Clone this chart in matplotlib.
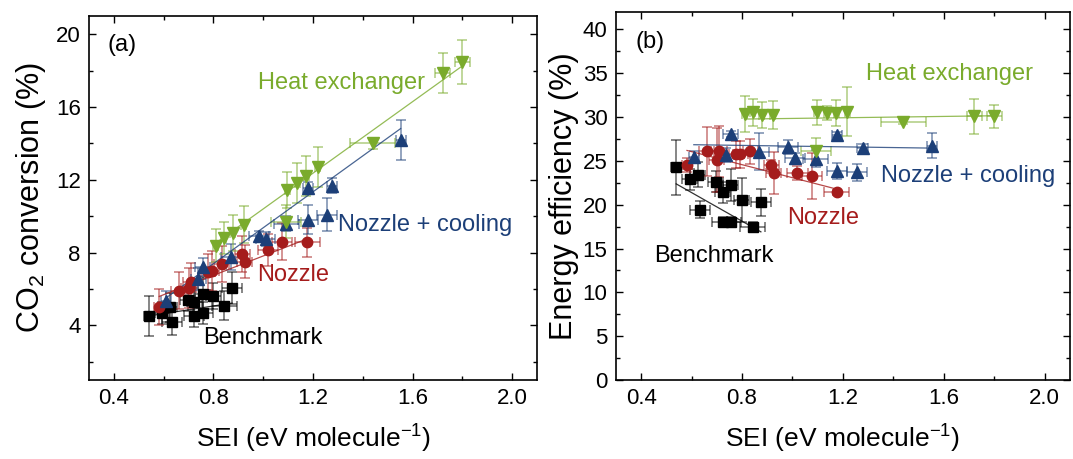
import numpy as np
import matplotlib
matplotlib.use('Agg')
import matplotlib.pyplot as plt
from matplotlib.ticker import MultipleLocator

plt.rcParams['font.family'] = ['Liberation Sans', 'DejaVu Sans']
plt.rcParams['mathtext.fontset'] = 'custom'
plt.rcParams['mathtext.rm'] = 'Liberation Sans'

# ---- data ----
# Benchmark (black squares)
bench_sei = [0.539, 0.593, 0.625, 0.633, 0.696, 0.723, 0.723, 0.756, 0.756, 0.799, 0.843, 0.875]
bench_sei_err = [0.02, 0.03, 0.03, 0.04, 0.03, 0.03, 0.04, 0.03, 0.04, 0.03, 0.05, 0.04]
bench_conv = [4.50, 4.68, 5.01, 4.20, 5.38, 5.27, 4.50, 5.74, 4.68, 5.63, 5.08, 6.06]
bench_conv_err = [1.1, 0.6, 0.8, 0.7, 0.6, 0.8, 0.6, 0.9, 0.6, 0.7, 0.8, 0.9]
bench_eff = [24.27, 22.90, 23.43, 19.44, 22.63, 21.42, 18.07, 22.25, 18.07, 20.58, 17.50, 20.27]
bench_eff_err = [3.1, 1.2, 1.4, 1.0, 1.2, 1.2, 0.5, 1.8, 0.5, 2.5, 0.5, 1.5]

# Nozzle (red circles)
noz_sei = [0.582, 0.661, 0.700, 0.709, 0.778, 0.794, 0.833, 0.916, 0.926, 1.020, 1.077, 1.176]
noz_sei_err = [0.02, 0.03, 0.03, 0.03, 0.03, 0.03, 0.03, 0.03, 0.03, 0.04, 0.04, 0.05]
noz_conv = [5.00, 5.92, 6.05, 6.41, 6.93, 6.98, 7.38, 7.92, 7.51, 8.15, 8.61, 8.56]
noz_conv_err = [1.0, 1.0, 1.1, 1.0, 1.0, 1.1, 1.0, 1.0, 0.9, 0.9, 1.0, 0.8]
noz_eff = [24.57, 26.09, 25.10, 26.09, 25.75, 25.75, 26.09, 24.53, 23.66, 23.58, 23.28, 21.41]
noz_eff_err = [0.8, 2.8, 3.7, 2.9, 1.5, 1.5, 1.4, 0.6, 2.4, 0.8, 2.6, 0.3]

# Nozzle + cooling (blue triangles)
cool_sei = [0.609, 0.738, 0.756, 0.869, 0.982, 1.009, 1.093, 1.178, 1.178, 1.256, 1.278, 1.552]
cool_sei_err = [0.02, 0.03, 0.03, 0.04, 0.04, 0.04, 0.05, 0.02, 0.04, 0.04, 0.02, 0.02]
cool_conv = [5.32, 6.55, 7.21, 7.77, 8.90, 8.76, 9.60, 11.56, 9.82, 10.09, 11.69, 14.18]
cool_conv_err = [0.6, 0.6, 0.5, 0.7, 0.3, 0.4, 0.4, 0.3, 0.8, 0.9, 0.4, 1.1]
cool_eff = [25.49, 25.72, 28.07, 26.06, 26.55, 25.34, 25.26, 28.00, 23.89, 23.70, 26.44, 26.74]
cool_eff_err = [0.6, 0.8, 0.3, 2.1, 0.8, 0.6, 1.0, 0.3, 0.9, 1.0, 0.5, 1.4]

# Heat exchanger (green down-triangles)
hx_sei = [0.810, 0.842, 0.878, 0.922, 1.093, 1.096, 1.136, 1.173, 1.218, 1.440, 1.722, 1.800]
hx_sei_err = [0.01, 0.01, 0.01, 0.01, 0.06, 0.01, 0.01, 0.01, 0.01, 0.09, 0.03, 0.03]
hx_conv = [8.39, 8.81, 9.09, 9.54, 9.70, 11.43, 11.84, 12.20, 12.70, 14.00, 17.89, 18.48]
hx_conv_err = [0.9, 0.9, 1.0, 1.0, 0.9, 1.0, 1.1, 1.1, 1.1, 0.3, 1.1, 1.2]
hx_eff = [30.35, 30.54, 30.24, 30.28, 26.09, 30.54, 30.50, 30.43, 30.62, 29.48, 30.09, 30.09]
hx_eff_err = [2.1, 1.5, 1.5, 1.6, 1.5, 1.4, 0.8, 1.5, 2.8, 0.3, 2.0, 1.3]

# linear fits (slope, intercept) as drawn in the figure
fit_conv = {'bench': (2.10, 3.39), 'noz': (5.32, 2.50), 'cool': (9.87, -0.50), 'hx': (9.82, 0.585)}
fit_eff = {'bench': (-16.3, 31.17), 'noz': (-7.43, 30.52), 'cool': (-0.41, 27.10), 'hx': (0.38, 29.47)}

series = [
    ('bench', 'Benchmark', '#000000', 's', 7.0, bench_sei, bench_sei_err, bench_conv, bench_conv_err, bench_eff, bench_eff_err),
    ('noz', 'Nozzle', '#a51c1c', 'o', 7.5, noz_sei, noz_sei_err, noz_conv, noz_conv_err, noz_eff, noz_eff_err),
    ('cool', 'Nozzle + cooling', '#1c3f78', '^', 8.0, cool_sei, cool_sei_err, cool_conv, cool_conv_err, cool_eff, cool_eff_err),
    ('hx', 'Heat exchanger', '#7aab2c', 'v', 8.0, hx_sei, hx_sei_err, hx_conv, hx_conv_err, hx_eff, hx_eff_err),
]

# label positions (data coords) per panel
lab_pos_a = {'bench': (0.76, 3.3), 'noz': (0.975, 6.75), 'cool': (1.30, 9.5), 'hx': (0.98, 17.3)}
lab_pos_b = {'bench': (0.45, 14.1), 'noz': (0.98, 18.5), 'cool': (1.35, 23.3), 'hx': (1.29, 34.9)}

fig = plt.figure(figsize=(10.73, 4.59), dpi=100)
ax1 = fig.add_axes([0.083, 0.172, 0.4175, 0.793])
ax2 = fig.add_axes([0.574, 0.172, 0.423, 0.802])

def draw_panel(ax, yidx, fits, lab_pos):
    for s in series:
        key, name, col, mk, ms, sei, sei_err, conv, conv_err, eff, eff_err = s
        y, yerr = (conv, conv_err) if yidx == 0 else (eff, eff_err)
        ax.errorbar(sei, y, xerr=sei_err, yerr=yerr, fmt='none', ecolor=col,
                    alpha=0.6, elinewidth=1.1, capsize=3.5, capthick=1.1, zorder=2)
        ax.plot(sei, y, ls='none', marker=mk, ms=ms, color=col, mec=col, zorder=4)
        k, b = fits[key]
        xs = np.array([min(sei), max(sei)])
        ax.plot(xs, k * xs + b, color=col, lw=0.9, alpha=0.8, zorder=3)
        tx, ty = lab_pos[key]
        ax.text(tx, ty, name, color=col, fontsize=17, va='center', ha='left')

draw_panel(ax1, 0, fit_conv, lab_pos_a)
draw_panel(ax2, 1, fit_eff, lab_pos_b)

ax1.set(xlim=(0.3, 2.1), ylim=(1, 21))
ax1.xaxis.set_major_locator(MultipleLocator(0.4)); ax1.xaxis.set_minor_locator(MultipleLocator(0.2))
ax1.yaxis.set_major_locator(MultipleLocator(4)); ax1.yaxis.set_minor_locator(MultipleLocator(2))
ax1.set_ylabel('CO$\\mathregular{_2}$ conversion (%)', fontsize=22, labelpad=6)
ax1.text(0.042, 0.92, '(a)', transform=ax1.transAxes, fontsize=17, va='center')

ax2.set(xlim=(0.3, 2.1), ylim=(0, 42))
ax2.xaxis.set_major_locator(MultipleLocator(0.4)); ax2.xaxis.set_minor_locator(MultipleLocator(0.2))
ax2.yaxis.set_major_locator(MultipleLocator(5)); ax2.yaxis.set_minor_locator(MultipleLocator(2.5))
ax2.set_ylabel('Energy efficiency (%)', fontsize=22, labelpad=3)
ax2.text(0.044, 0.918, '(b)', transform=ax2.transAxes, fontsize=17, va='center')

for ax in (ax1, ax2):
    ax.set_xlabel('SEI (eV molecule$\\mathregular{^{-1}}$)', fontsize=19, labelpad=10)
    ax.tick_params(which='both', direction='in', top=True, right=True, labelsize=16, pad=6, width=1.0)
    ax.tick_params(which='major', length=5)
    ax.tick_params(which='minor', length=3)
    for sp in ax.spines.values():
        sp.set_linewidth(1.2)

fig.savefig('out.png', dpi=100)
